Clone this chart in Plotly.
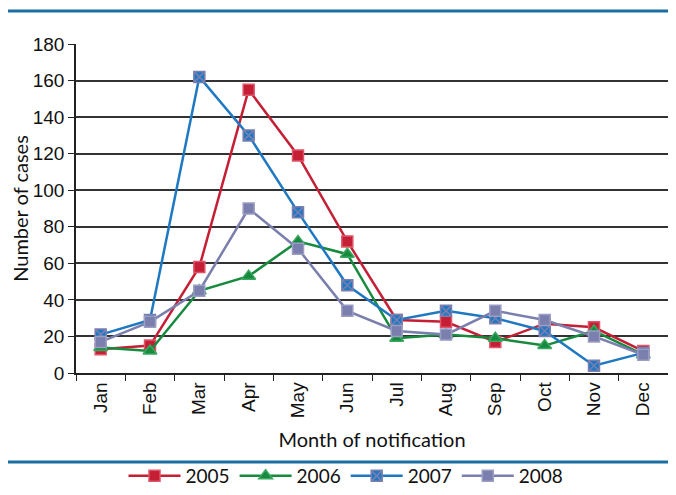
import plotly.graph_objects as go

months = ["Jan", "Feb", "Mar", "Apr", "May", "Jun", "Jul", "Aug", "Sep", "Oct", "Nov", "Dec"]
cases_2005 = [13, 15, 58, 155, 119, 72, 29, 28, 17, 27, 25, 12]
cases_2006 = [14, 12, 45, 53, 72, 65, 19, 21, 19, 15, 23, 10]
cases_2007 = [21, 29, 162, 130, 88, 48, 29, 34, 30, 23, 4, 11]
cases_2008 = [17, 28, 45, 90, 68, 34, 23, 21, 34, 29, 20, 10]
y_ticks = [0, 20, 40, 60, 80, 100, 120, 140, 160, 180]

series = [
    ("2005", cases_2005, "#c51f35", "square", "#e0556a"),
    ("2006", cases_2006, "#178a3e", "triangle-up", "#3aa860"),
    ("2007", cases_2007, "#1f79c2", "square-x", "#7b7fb0"),
    ("2008", cases_2008, "#7b7fad", "square", "#9a9dc4"),
]

fig = go.Figure()
for name, vals, col, sym, lcol in series:
    fig.add_trace(go.Scatter(
        x=months, y=vals, name=name, mode="lines+markers",
        line=dict(color=col, width=2.5),
        marker=dict(symbol=sym, size=11 if sym != "triangle-up" else 12, color=col,
                    line=dict(color=lcol, width=1.5)),
    ))

tick_font = dict(family="Liberation Sans, Arial, sans-serif", size=19, color="#111")
title_font = dict(family="Lato, Open Sans, sans-serif", size=20, color="#111")

# the page body adds an 8px margin, so the figure is sized to fill the rest of the window
fig.update_layout(
    width=668, height=487,
    margin=dict(l=68, r=8, t=36, b=122),
    paper_bgcolor="white", plot_bgcolor="white",
    showlegend=True,
    legend=dict(orientation="h", xref="container", yref="container",
                x=0.506, xanchor="center", y=0.0, yanchor="bottom",
                font=dict(family="Lato, Open Sans, sans-serif", size=19, color="#111"),
                itemwidth=52, tracegroupgap=0, bgcolor="rgba(0,0,0,0)"),
    xaxis=dict(
        type="category", tickson="boundaries", ticks="outside", ticklen=6, tickcolor="#222",
        tickangle=-90, tickfont=tick_font, showline=True, linecolor="#222", linewidth=1.5,
        showgrid=False, range=[-0.5, 11.5], automargin=False,
        title=dict(text="Month of notification", font=title_font, standoff=16),
    ),
    yaxis=dict(
        range=[0, 180], tickvals=y_ticks, ticks="outside", ticklen=6, tickcolor="#222",
        tickfont=tick_font, showline=True, linecolor="#222", linewidth=1.5,
        showgrid=True, gridcolor="#333", gridwidth=1.5, zeroline=False, automargin=False,
        title=dict(text="Number of cases", font=title_font, standoff=5),
    ),
    shapes=[
        dict(type="line", xref="paper", yref="paper", x0=-0.115, x1=1.0135, y0=1.1003, y1=1.1003,
             line=dict(color="#1a6ea0", width=3)),
        dict(type="line", xref="paper", yref="paper", x0=-0.115, x1=1.0135, y0=-0.2705, y1=-0.2705,
             line=dict(color="#1a6ea0", width=3)),
    ],
)

fig.write_html("out.html")
